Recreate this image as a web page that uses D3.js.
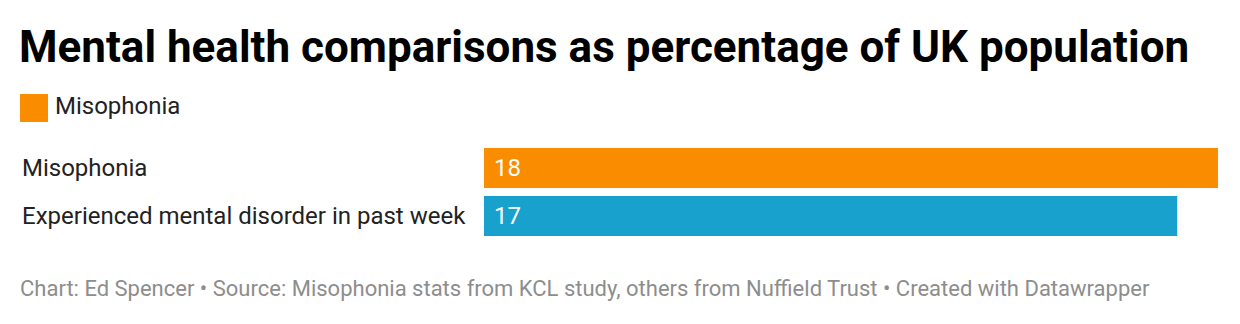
<!DOCTYPE html>
<html>
<head>
<meta charset="utf-8">
<script src="https://cdn.jsdelivr.net/npm/d3@7"></script>
<style>
  html, body { margin: 0; padding: 0; background: #fff; }
  svg { display: block; font-family: Roboto, "Noto Sans", sans-serif; }
</style>
</head>
<body>
<svg id="chart" width="1240" height="324"></svg>
<script>
const title = "Mental health comparisons as percentage of UK population";
const legendLabels = ["Misophonia"];
const categories = ["Misophonia", "Experienced mental disorder in past week"];
const values = [18, 17];
const barColors = ["#fa8c00", "#18a1cd"];
const footer = "Chart: Ed Spencer \u2022 Source: Misophonia stats from KCL study, others from Nuffield Trust \u2022 Created with Datawrapper";

const svg = d3.select("#chart");

svg.append("text")
  .attr("x", 19).attr("y", 62)
  .attr("font-size", 44).attr("font-weight", 700)
  .attr("fill", "#000")
  .text(title);

// legend
const lg = svg.append("g");
legendLabels.forEach((l, i) => {
  lg.append("rect").attr("x", 20).attr("y", 94).attr("width", 28).attr("height", 28).attr("fill", barColors[i]);
  lg.append("text").attr("x", 55).attr("y", 106).attr("dy", "0.35em")
    .attr("font-size", 24).attr("fill", "#222").text(l);
});

const x = d3.scaleLinear().domain([0, 18]).range([484, 1218]);
const y = d3.scaleBand().domain(categories).range([148, 236]).paddingInner(1/6).paddingOuter(0);

const rows = svg.append("g").selectAll("g").data(categories).join("g");

rows.append("rect")
  .attr("x", x(0))
  .attr("y", d => y(d))
  .attr("width", (d, i) => x(values[i]) - x(0))
  .attr("height", y.bandwidth())
  .attr("fill", (d, i) => barColors[i]);

rows.append("text")
  .attr("x", 22)
  .attr("y", d => y(d) + y.bandwidth() / 2)
  .attr("dy", "0.35em")
  .attr("font-size", 24).attr("fill", "#222")
  .text(d => d);

rows.append("text")
  .attr("x", x(0) + 10)
  .attr("y", d => y(d) + y.bandwidth() / 2)
  .attr("dy", "0.35em")
  .attr("font-size", 24).attr("fill", "#fff")
  .text((d, i) => values[i]);

svg.append("text")
  .attr("x", 20).attr("y", 296)
  .attr("font-size", 22).attr("fill", "#8d8d8d")
  .text(footer);
</script>
</body>
</html>
